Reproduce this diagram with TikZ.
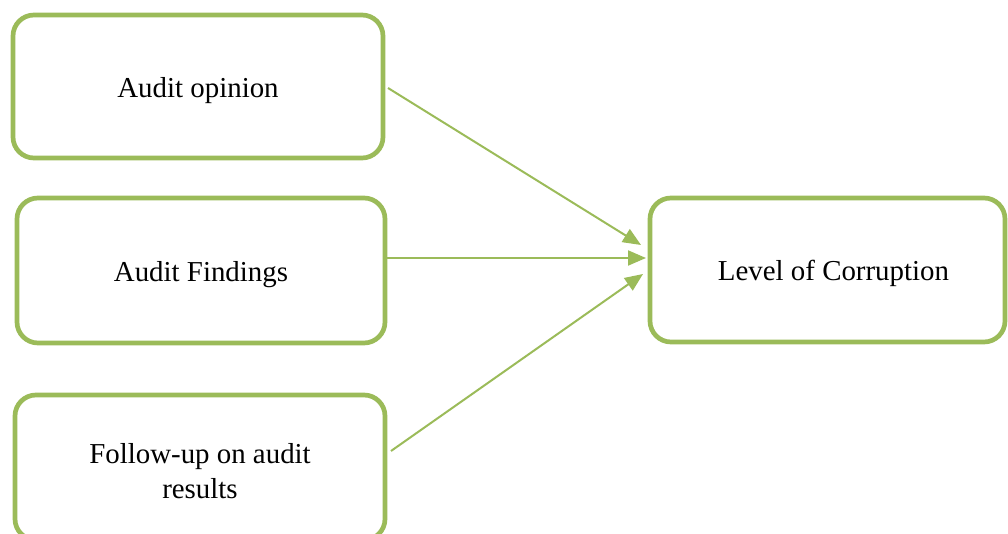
\documentclass[tikz,border=0pt]{standalone}
\usepackage{fontspec}
\setmainfont{Liberation Serif}
\usetikzlibrary{arrows.meta}
\definecolor{ogreen}{HTML}{9BBB59}
\newcommand{\dnstrut}{\rule{0pt}{28bp}}
\tikzset{
  box/.style={draw=ogreen, line width=4.7bp, rounded corners=21bp, fill=white,
    align=center, inner sep=0pt, font=\fontsize{29}{35}\selectfont},
  conn/.style={draw=ogreen, line width=2bp, -{Triangle[length=18bp,width=15bp]}, fill=ogreen}
}
\begin{document}
\begin{tikzpicture}[x=1bp,y=-1bp]
\useasboundingbox (0,0) rectangle (1008,534);
\clip (0,0) rectangle (1008,534);
\node[box, minimum width=370bp, minimum height=143bp] (op) at (198,86.5) {\dnstrut Audit opinion};
\node[box, minimum width=368bp, minimum height=145bp] (fi) at (201,270.5) {\dnstrut Audit Findings};
\node[box, minimum width=370bp, minimum height=145bp] (fu) at (200,467.5) {\dnstrut Follow-up on audit\\results};
\node[box, minimum width=355bp, minimum height=144bp] (lc) at (827.5,270) {\dnstrut\hspace*{12bp}Level of Corruption};
\coordinate (a1) at (388,88);
\coordinate (a2) at (385,258);
\coordinate (a3) at (391,451);
\coordinate (t1) at (641,245);
\coordinate (t2) at (646,258);
\coordinate (t3) at (643,274);
\draw[conn] (a1) -- (t1);
\draw[conn] (a2) -- (t2);
\draw[conn] (a3) -- (t3);
\end{tikzpicture}
\end{document}
